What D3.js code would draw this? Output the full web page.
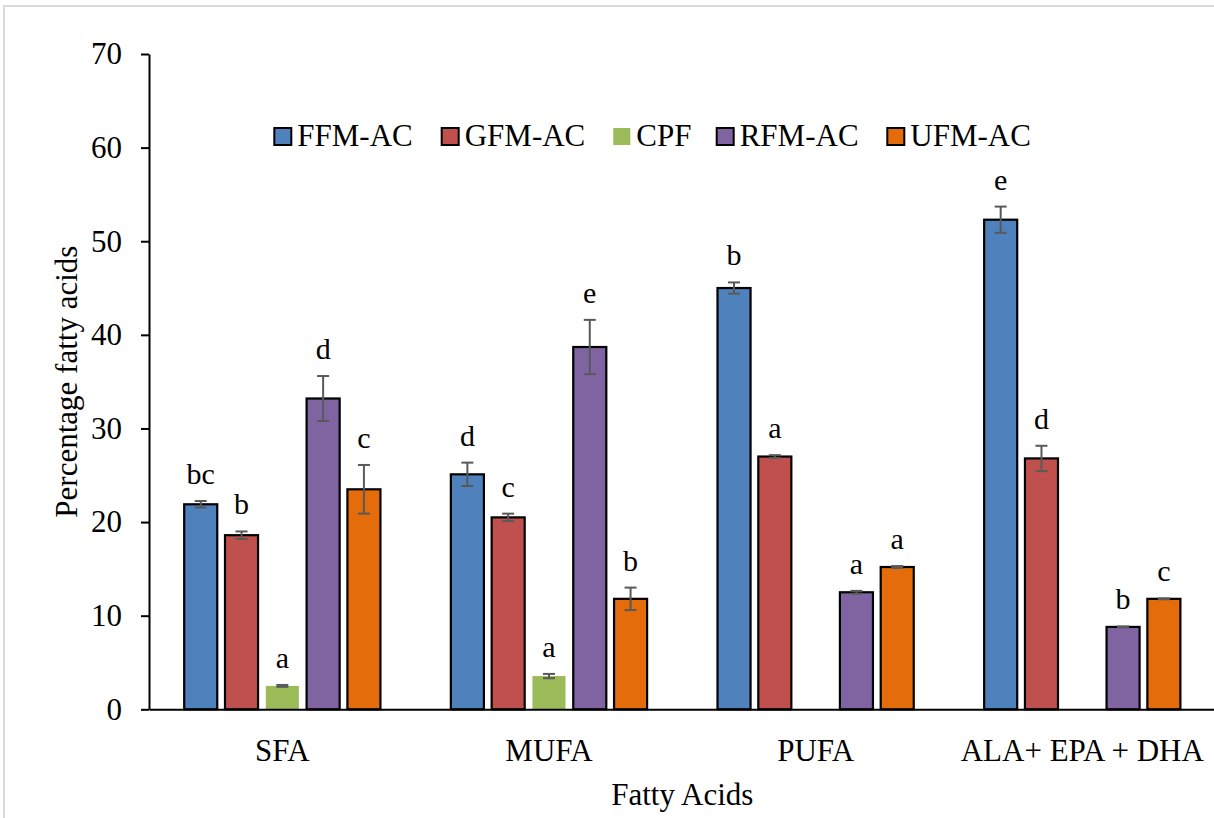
<!DOCTYPE html>
<html>
<head>
<meta charset="utf-8">
<script src="https://cdn.jsdelivr.net/npm/d3@7/dist/d3.min.js"></script>
<style>
  html, body { margin: 0; padding: 0; background: #fff; }
  svg { display: block; }
  text { font-family: "Liberation Serif", "Times New Roman", serif; fill: #000; }
</style>
</head>
<body>
<svg id="chart" width="1214" height="818"></svg>
<script>
// Fatty acid groups on the x axis
const categories = ["SFA", "MUFA", "PUFA", "ALA+ EPA + DHA"];
// Treatments (one bar per treatment in each group)
const series = ["FFM-AC", "GFM-AC", "CPF", "RFM-AC", "UFM-AC"];
const colors = ["#4F81BD", "#C0504D", "#9BBB59", "#8064A2", "#E46C0A"];
const outlined = [true, true, false, true, true];

// Mean percentage of each group, per treatment
const ffmAC = [21.9, 25.1, 45.0, 52.3];
const gfmAC = [18.6, 20.5, 27.0, 26.8];
const cpf   = [2.5, 3.55, 0, 0];
const rfmAC = [33.2, 38.7, 12.5, 8.8];
const ufmAC = [23.5, 11.8, 15.2, 11.8];

// Standard errors
const ffmErr = [0.35, 1.25, 0.6, 1.4];
const gfmErr = [0.4, 0.4, 0.15, 1.35];
const cpfErr = [0.1, 0.23, 0, 0];
const rfmErr = [2.4, 2.9, 0.15, 0.05];
const ufmErr = [2.6, 1.2, 0.1, 0.05];

// Significance letters
const ffmSig = ["bc", "d", "b", "e"];
const gfmSig = ["b", "c", "a", "d"];
const cpfSig = ["a", "a", "", ""];
const rfmSig = ["d", "e", "a", "b"];
const ufmSig = ["c", "b", "a", "c"];

const yTicks = [0, 10, 20, 30, 40, 50, 60, 70];

const values = [ffmAC, gfmAC, cpf, rfmAC, ufmAC];
const errors = [ffmErr, gfmErr, cpfErr, rfmErr, ufmErr];
const letters = [ffmSig, gfmSig, cpfSig, rfmSig, ufmSig];

const rows = [];
series.forEach((s, si) => {
  categories.forEach((c, ci) => {
    rows.push({ series: s, si, category: c, value: values[si][ci], err: errors[si][ci], sig: letters[si][ci] });
  });
});

const svg = d3.select("#chart");

// outer frame of the figure
svg.append("rect")
  .attr("x", 4).attr("y", 6).attr("width", 1230).attr("height", 830)
  .attr("fill", "none").attr("stroke", "#d9d9d9").attr("stroke-width", 2);

const plotLeft = 149, plotRight = 1215.6, plotTop = 54, plotBottom = 709.3;

const x = d3.scaleBand().domain(categories).range([plotLeft, plotRight]).paddingInner(0).paddingOuter(0);
const xInner = d3.scaleBand().domain(series).range([-102, 102]).paddingInner(0.19).paddingOuter(0.095);
const y = d3.scaleLinear().domain([0, 70]).range([plotBottom, plotTop]);

// y axis
const yAxis = svg.append("g")
  .attr("transform", `translate(${plotLeft},0)`)
  .call(d3.axisLeft(y).tickValues(yTicks).tickSize(8).tickSizeOuter(0).tickPadding(19));
yAxis.select(".domain").attr("stroke", "#000").attr("stroke-width", 2);
yAxis.selectAll(".tick line").attr("stroke", "#000").attr("stroke-width", 2);
yAxis.selectAll(".tick text").style("font-size", "31px").attr("font-family", null);

// bars
const barX = d => x(d.category) + x.bandwidth() / 2 + xInner(d.series);
svg.append("g").selectAll("rect")
  .data(rows.filter(d => d.value > 0))
  .join("rect")
  .attr("x", barX)
  .attr("width", xInner.bandwidth())
  .attr("y", d => y(d.value))
  .attr("height", d => y(0) - y(d.value))
  .attr("fill", d => colors[d.si])
  .attr("stroke", d => outlined[d.si] ? "#000" : "none")
  .attr("stroke-width", 2.2);

// x axis (drawn over the bar bases)
const xAxis = svg.append("g")
  .attr("transform", `translate(0,${plotBottom})`)
  .call(d3.axisBottom(x).tickSize(0).tickPadding(30));
xAxis.select(".domain").attr("stroke", "#000").attr("stroke-width", 2);
xAxis.selectAll(".tick text").style("font-size", "31px").attr("font-family", null);

// error bars
const eb = svg.append("g").attr("stroke", "#595959").attr("stroke-width", 2);
const capHalf = 6;
rows.filter(d => d.value > 0 && d.err > 0).forEach(d => {
  const cx = barX(d) + xInner.bandwidth() / 2;
  const y1 = y(d.value + d.err), y2 = y(d.value - d.err);
  eb.append("line").attr("x1", cx).attr("x2", cx).attr("y1", y1).attr("y2", y2);
  eb.append("line").attr("x1", cx - capHalf).attr("x2", cx + capHalf).attr("y1", y1).attr("y2", y1);
  eb.append("line").attr("x1", cx - capHalf).attr("x2", cx + capHalf).attr("y1", y2).attr("y2", y2);
});

// significance letters
svg.append("g").selectAll("text")
  .data(rows.filter(d => d.sig))
  .join("text")
  .attr("x", d => barX(d) + xInner.bandwidth() / 2)
  .attr("y", d => y(d.value + d.err) - 17)
  .attr("text-anchor", "middle")
  .style("font-size", "30px")
  .text(d => d.sig);

// legend
const legendX = [274.3, 441.7, 613.3, 716.7, 887.3];
const legend = svg.append("g");
series.forEach((s, i) => {
  legend.append("rect")
    .attr("x", legendX[i]).attr("y", 128).attr("width", 17).attr("height", 17)
    .attr("fill", colors[i])
    .attr("stroke", outlined[i] ? "#000" : "none").attr("stroke-width", 2);
  legend.append("text")
    .attr("x", legendX[i] + 23).attr("y", 145.5)
    .style("font-size", "31px")
    .text(s);
});

// axis titles
svg.append("text")
  .attr("x", (plotLeft + plotRight) / 2).attr("y", 805)
  .attr("text-anchor", "middle")
  .style("font-size", "31px")
  .text("Fatty Acids");

svg.append("text")
  .attr("transform", `translate(77,${(plotTop + plotBottom) / 2}) rotate(-90)`)
  .attr("text-anchor", "middle")
  .style("font-size", "31px")
  .text("Percentage fatty acids");
</script>
</body>
</html>
